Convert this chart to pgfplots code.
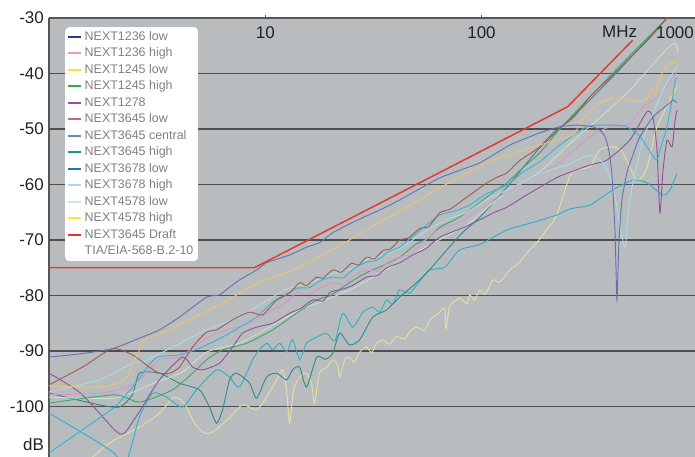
\documentclass[border=0pt]{standalone}
\usepackage{fontspec}
\setmainfont{Liberation Sans}
\usepackage{pgfplots}
\pgfplotsset{compat=1.18}
\definecolor{bgc}{HTML}{B9BCBF}
\definecolor{gridc}{HTML}{4E4E4E}
\definecolor{axc}{HTML}{555555}
\definecolor{tickc}{HTML}{222222}
\definecolor{legc}{HTML}{808080}
% legend colours
\definecolor{L1}{HTML}{23408E}
\definecolor{L2}{HTML}{E59BC3}
\definecolor{L3}{HTML}{F0E63C}
\definecolor{L4}{HTML}{2FA84F}
\definecolor{L5}{HTML}{9B4EA0}
\definecolor{L6}{HTML}{C46A6A}
\definecolor{L7}{HTML}{5B8BD0}
\definecolor{L8}{HTML}{13988C}
\definecolor{L9}{HTML}{1D76BB}
\definecolor{L10}{HTML}{A2DAF4}
\definecolor{L11}{HTML}{CFE6DA}
\definecolor{L12}{HTML}{F5EA3A}
\definecolor{L13}{HTML}{E5332A}
% plot colours
\definecolor{Pblue}{HTML}{6670B0}
\definecolor{Porange}{HTML}{ECC46C}
\definecolor{Pbrown}{HTML}{A25A4A}
\definecolor{Ppink}{HTML}{D896C6}
\definecolor{Ppurple}{HTML}{9050A0}
\definecolor{Pgreen}{HTML}{42A466}
\definecolor{Pteal}{HTML}{2E8A8A}
\definecolor{Pcyan}{HTML}{33B5D8}
\definecolor{Plcyan}{HTML}{A8DBEA}
\definecolor{Ppgreen}{HTML}{C6E2C8}
\definecolor{Plcy}{HTML}{28B0C8}
\definecolor{Pyel}{HTML}{E8E0A0}
\definecolor{Pred}{HTML}{E33A36}
\begin{document}
\begin{tikzpicture}
\begin{axis}[
  scale only axis, width=646bp, height=439bp,
  xmode=log, xmin=1, xmax=971, ymin=-109.1, ymax=-30,
  axis background/.style={fill=bgc},
  axis x line=top, axis y line=left,
  axis line style={-, draw=axc, line width=1.1bp},
  xtick={10,100}, xticklabels={10,100},
  xminorticks=false, yminorticks=false,
  ytick={-100,-90,-80,-70,-60,-50,-40,-30},
  yticklabels={-100,-90,-80,-70,-60,-50,-40,-30},
  extra y ticks={-106.9}, extra y tick labels={dB},
  extra y tick style={grid=none},
  ymajorgrids, grid style={draw=gridc, line width=1.1bp},
  tick align=outside, major tick length=3bp,
  ytick style={draw=none},
  xtick style={draw=axc, line width=0.8bp},
  tick label style={font=\fontsize{17}{19}\selectfont, text=tickc},
  yticklabel style={inner sep=0pt, xshift=-2bp},
  xticklabel style={anchor=north, inner sep=0pt, yshift=-11bp},
  legend style={at={(rel axis cs:0.0248,0.9795)}, anchor=north west,
    draw=none, fill=white, rounded corners=4bp,
    font=\fontsize{12.5}{14}\selectfont, text=legc,
    inner xsep=2bp, inner ysep=1.5bp, row sep=0pt,
    nodes={inner sep=2.5bp, text height=9bp, text depth=2.5bp}},
  legend cell align=left,
  legend image code/.code={\draw[#1, line width=2bp] (0bp,0bp) -- (13bp,0bp);},
  legend entries={NEXT1236 low,NEXT1236 high,NEXT1245 low,NEXT1245 high,NEXT1278,NEXT3645 low,NEXT3645 central,NEXT3645 high,NEXT3678 low,NEXT3678 high,NEXT4578 low,NEXT4578 high,NEXT3645 Draft,TIA/EIA-568-B.2-10},
]
\addlegendimage{L1}
\addlegendimage{L2}
\addlegendimage{L3}
\addlegendimage{L4}
\addlegendimage{L5}
\addlegendimage{L6}
\addlegendimage{L7}
\addlegendimage{L8}
\addlegendimage{L9}
\addlegendimage{L10}
\addlegendimage{L11}
\addlegendimage{L12}
\addlegendimage{L13}
\addlegendimage{empty legend}

% pale yellow noisy (NEXT1245 low)
\addplot[Pyel, line width=0.9bp, smooth, tension=0.4, forget plot] coordinates {
(1.40,-111)(1.90,-106.6)(2.62,-103.7)(3.24,-101.2)(3.80,-98.3)(4.23,-99.5)(4.71,-103.0)(5.24,-104.8)(5.70,-104.6)(6.69,-102.4)(7.85,-99.7)(9.12,-100.6)(10.14,-98.3)(11.28,-95.2)(12.02,-93.4)(12.55,-97.0)(12.96,-103.0)(13.52,-97.0)(14.42,-94.7)(15.52,-94.0)(16.39,-96.0)(16.9,-99.4)(17.8,-94.0)(19.2,-93.0)(20.5,-91.6)(21.6,-92.5)(22.1,-94.7)(23.3,-91.6)(24.5,-91.1)(25.8,-92.0)(27.3,-90.2)(29.4,-89.3)(31.0,-90.3)(32.7,-88.7)(34.9,-88.0)(37.6,-88.8)(40.5,-87.4)(44.2,-87.9)(46.5,-86.5)(50.1,-85.7)(54.6,-86.3)(57.6,-84.4)(64.1,-83.0)(67.6,-82.3)(68.5,-86.0)(71.3,-82.0)(79.3,-80.5)(85.5,-81.5)(88.2,-79.9)(93,-80.8)(98.1,-79.0)(104,-79.8)(112.8,-77.2)(121.5,-77.6)(135,-75.4)(150,-74.0)(165,-72.0)(180,-70.5)(200,-68.2)(223,-65.5)(260,-58.0)(317,-56.8)(352,-53.8)(404,-53.2)(451,-54.3)(523,-59.2)(582,-57.0)(648,-49.6)(802,-42.4)};

% low noisy cyan (NEXT3678 low)
\addplot[Plcy, line width=0.9bp, smooth, tension=0.4, forget plot] coordinates {
(1,-101.2)(1.38,-104.4)(1.71,-106.6)(2.0,-108.4)(2.25,-110.5)(2.45,-106.0)(2.62,-101.9)(3.01,-97.6)(3.49,-98.3)(4.14,-100.1)(4.81,-97.0)(5.95,-93.4)(6.84,-94.7)(7.60,-96.5)(8.9,-91.0)(10.14,-88.6)(10.81,-89.8)(11.65,-88.6)(12.55,-90.2)(13.38,-88.0)(14.42,-91.5)(15.52,-88.6)(17.28,-87.5)(19.2,-86.8)(21,-88.2)(22.8,-83.2)(25.4,-85.7)(28.3,-83.0)(31.4,-82.1)(33.8,-83.0)(36.4,-80.8)(38.8,-81.6)(41.8,-79.0)(46.5,-79.6)(51.8,-77.4)(57.6,-75.4)(67.6,-74.9)(79.3,-71.8)(98.1,-70.8)(131,-68.2)(167,-67.0)(223,-65.5)(256,-64.4)(317,-63.7)(404,-61.0)(501,-59.2)(582,-59.7)(691,-61.9)(743,-61.0)(802,-58.0)};

% dark teal (NEXT3645 high)
\addplot[Pteal, line width=0.9bp, smooth, tension=0.4, forget plot] coordinates {
(1,-97.6)(1.71,-99.7)(2.12,-100.1)(2.43,-97.9)(2.62,-94.0)(3.24,-94.0)(4.01,-95.8)(4.96,-97.0)(5.52,-100.1)(5.95,-103.0)(6.35,-100.6)(6.84,-95.2)(7.36,-94.0)(8.46,-95.8)(9.12,-98.5)(10.14,-94.7)(11.28,-94.0)(12.55,-95.2)(13.38,-93.4)(14.42,-92.9)(15.52,-96.5)(17.28,-91.1)(19,-91.5)(20.5,-90.4)(22.1,-86.8)(24.5,-88.9)(27.3,-88.0)(31.4,-83.9)(36.4,-82.6)(41.8,-80.3)(50.1,-77.7)(58,-75.2)(69.1,-71.8)(82,-68.6)(98.1,-65.9)(131,-60.5)(186,-53.4)(307,-45.3)(437,-39.2)(698,-30.6)(920,-25.8)};

% pale green (NEXT4578 low)
\addplot[Ppgreen, line width=0.9bp, smooth, tension=0.4, forget plot] coordinates {
(1,-98.3)(2.01,-98.5)(2.91,-96.1)(4.14,-93.8)(5.35,-90.2)(7.60,-88.6)(10.81,-85.4)(14.42,-82.6)(18,-81.2)(24.5,-79.0)(30,-77.2)(41.8,-74.0)(60,-70.5)(85.5,-67.3)(120,-62.5)(186,-57.7)(250,-53.0)(342,-48.4)(485,-43.0)(691,-36.3)(785,-34.5)(810,-36.3)};

% green (NEXT1245 high)
\addplot[Pgreen, line width=0.9bp, smooth, tension=0.4, forget plot] coordinates {
(1,-99.4)(2.01,-97.9)(2.62,-99.2)(3.72,-97.0)(4.61,-94.0)(5.35,-91.6)(6.35,-89.8)(8.19,-88.6)(10.81,-86.2)(13.96,-83.2)(17.28,-80.8)(20,-80.0)(24.5,-77.7)(29,-76.0)(35,-74.6)(41.8,-73.1)(50,-70.7)(57,-69.6)(64.1,-67.7)(75,-66.4)(85.5,-65.0)(100,-63.0)(115,-61.2)(131,-59.7)(155,-57.0)(186,-54.3)(230,-50.0)(307,-44.8)(437,-38.6)(721,-30.0)(920,-25.9)};

% purple (NEXT1278)
\addplot[Ppurple, line width=0.9bp, smooth, tension=0.4, forget plot] coordinates {
(1,-94.0)(1.40,-97.6)(2.01,-104.2)(2.23,-104.8)(2.65,-100.6)(3.24,-95.2)(4.14,-91.1)(4.61,-92.9)(5.13,-93.4)(6.14,-92.2)(7.06,-89.3)(7.85,-86.8)(9.12,-85.7)(10.81,-85.0)(12.96,-83.2)(14.5,-82.4)(16.56,-80.8)(18.5,-81.0)(20,-79.4)(22.1,-79.0)(25,-78.3)(29.4,-76.7)(33,-76.4)(36.5,-75.0)(41.8,-74.1)(48,-72.7)(55,-71.6)(64.1,-69.5)(75,-68.4)(85.5,-67.5)(100,-66.2)(115,-65.0)(131,-64.1)(160,-62.0)(186,-60.5)(230,-58.5)(317,-56.5)(380,-55.6)(485,-52.0)(582,-46.9)(621,-48.0)(648,-53.8)(668,-65.1)(691,-57.4)(721,-52.0)(761,-53.2)(785,-48.4)(802,-46.6)};

% pink (NEXT1236 high)
\addplot[Ppink, line width=0.9bp, smooth, tension=0.4, forget plot] coordinates {
(1,-97.9)(1.71,-97.6)(2.23,-96.7)(2.62,-95.2)(3.24,-91.6)(4.01,-91.1)(5.35,-87.7)(6.62,-86.2)(8.46,-85.0)(10.81,-82.6)(12.2,-81.6)(13.96,-79.5)(16,-79.8)(18,-78.6)(20.5,-77.7)(23,-77.9)(26,-76.3)(29.4,-75.4)(33,-75.6)(37,-74.0)(41.8,-73.1)(47,-72.5)(53,-70.6)(64.1,-68.0)(75,-67.2)(85.5,-66.0)(100,-64.3)(115,-62.6)(131,-61.5)(160,-59.4)(186,-58.0)(230,-56.0)(317,-51.4)(392,-49.6)(485,-49.0)(558,-46.0)(668,-43.9)(802,-39.7)};

% light cyan (NEXT3678 high)
\addplot[Plcyan, line width=0.9bp, smooth, tension=0.4, forget plot] coordinates {
(1,-97.4)(1.71,-95.2)(2.43,-92.2)(2.85,-91.6)(3.72,-89.3)(5.35,-86.2)(7.60,-83.9)(12.3,-79.0)(16,-77.8)(20.5,-76.0)(25,-75.2)(29.4,-73.5)(35,-72.8)(41.8,-71.5)(55,-68.5)(69,-66.3)(85.5,-65.0)(105,-62.8)(131,-61.0)(155,-59.6)(186,-58.0)(248,-56.5)(317,-54.7)(364,-56.1)(400,-59.5)(423,-64.1)(460,-71.3)(485,-62.8)(558,-52.0)(691,-43.0)(802,-38.8)};

% cyan (NEXT3645 central)
\addplot[Pcyan, line width=0.9bp, smooth, tension=0.4, forget plot] coordinates {
(1,-108.4)(1.38,-104.6)(2.01,-100.1)(2.48,-96.1)(2.85,-92.9)(3.17,-91.1)(4.01,-90.7)(4.96,-89.5)(6.35,-87.5)(8.19,-85.0)(9.12,-83.9)(10.81,-81.2)(12.2,-80.2)(13.96,-78.7)(16,-78.6)(18,-77.3)(20.5,-76.7)(23,-76.8)(26,-75.0)(29.4,-74.0)(33,-73.6)(37,-72.2)(41.8,-71.3)(50,-68.8)(64.1,-65.5)(75,-64.8)(88.2,-63.7)(105,-61.7)(131,-60.1)(155,-57.8)(186,-55.9)(230,-52.9)(307,-49.6)(392,-49.3)(470,-49.6)(540,-51.4)(582,-53.2)(615,-54.7)(648,-55.6)(668,-53.8)(691,-52.0)(721,-49.6)(761,-44.8)(785,-41.5)(802,-40.8)};

% brown (NEXT3645 low)
\addplot[Pbrown, line width=0.9bp, smooth, tension=0.4, forget plot] coordinates {
(1,-96.1)(1.43,-92.9)(1.96,-89.6)(2.43,-90.7)(2.91,-92.9)(3.24,-94.0)(3.61,-94.0)(4.01,-92.9)(4.61,-89.3)(5.35,-86.6)(5.95,-86.2)(7.06,-84.4)(8.46,-83.0)(9.72,-83.5)(11.28,-80.8)(12.96,-79.5)(14.42,-77.7)(15.5,-78.2)(17.28,-76.7)(18.5,-76.9)(20.5,-75.4)(22.5,-75.8)(25,-74.2)(27,-74.5)(29.4,-73.1)(32,-73.4)(35,-71.9)(38,-71.6)(41.8,-70.0)(46,-69.6)(52,-67.9)(57,-67.6)(64.1,-65.1)(72,-64.4)(81.9,-62.8)(92,-61.4)(105,-59.8)(118,-58.7)(131,-57.9)(150,-55.7)(170,-54.3)(186,-53.2)(220,-50.3)(265,-48.0)(317,-44.2)(392,-40.8)(485,-37.2)(601,-33.6)(721,-30.0)(920,-25.8)};

% orange (NEXT4578 high)
\addplot[Porange, line width=0.9bp, smooth, tension=0.4, forget plot] coordinates {
(1,-96.3)(1.71,-96.5)(2.05,-95.8)(2.30,-94.7)(2.43,-92.5)(2.62,-89.8)(2.76,-88.0)(3.24,-87.0)(4.46,-84.4)(6.35,-81.4)(8.46,-78.5)(10.14,-77.2)(14.42,-74.9)(24.5,-70.0)(33.8,-66.8)(51.8,-62.8)(64.1,-60.6)(109,-55.9)(186,-52.9)(265,-51.1)(285,-48.9)(352,-45.3)(423,-44.4)(540,-45.1)(587,-44.4)(615,-42.7)(634,-43.9)(668,-40.6)(743,-38.1)(802,-38.1)};

% blue (NEXT1236 low)
\addplot[Pblue, line width=0.9bp, smooth, tension=0.3, forget plot] coordinates {
(1,-91.1)(1.40,-90.5)(1.96,-89.6)(2.62,-87.7)(3.24,-86.2)(4.01,-83.9)(5.35,-80.3)(6.14,-79.9)(6.69,-78.8)(7.60,-77.2)(9.12,-75.4)(10.14,-74.1)(12.96,-72.7)(15.52,-71.3)(17.8,-70.5)(20.5,-68.7)(25.4,-66.8)(33.8,-64.6)(41.8,-62.8)(64.1,-58.8)(98.1,-56.1)(135,-52.9)(186,-50.7)(230,-49.6)(276,-49.3)(327,-49.6)(352,-50.2)(372,-51.3)(388,-53.8)(401,-58.3)(414,-68.2)(423,-80.8)(432,-70.0)(446,-62.8)(470,-57.9)(501,-54.7)(540,-51.4)(621,-47.8)(706,-46.0)(768,-44.8)(802,-45.3)};

% red limit (NEXT3645 Draft TIA/EIA-568-B.2-10)
\addplot[Pred, line width=1.5bp, forget plot] coordinates {
(1,-75)(8.9,-75)(250,-46)(500,-34)};

\coordinate (SW) at (rel axis cs:0,0);
\coordinate (NE) at (rel axis cs:1,1);
\node[anchor=north west, inner sep=0pt, font=\fontsize{17}{19}\selectfont, text=tickc] at ([yshift=-8bp]rel axis cs:0.856,1) {MHz};
\node[anchor=north east, inner sep=0pt, font=\fontsize{17}{19}\selectfont, text=tickc] at ([yshift=-8bp, xshift=-1bp]rel axis cs:1,1) {1000};
\end{axis}
\pgfresetboundingbox
\path[use as bounding box] ([xshift=-49bp]SW) rectangle ([yshift=18bp]NE);
\end{tikzpicture}
\end{document}
